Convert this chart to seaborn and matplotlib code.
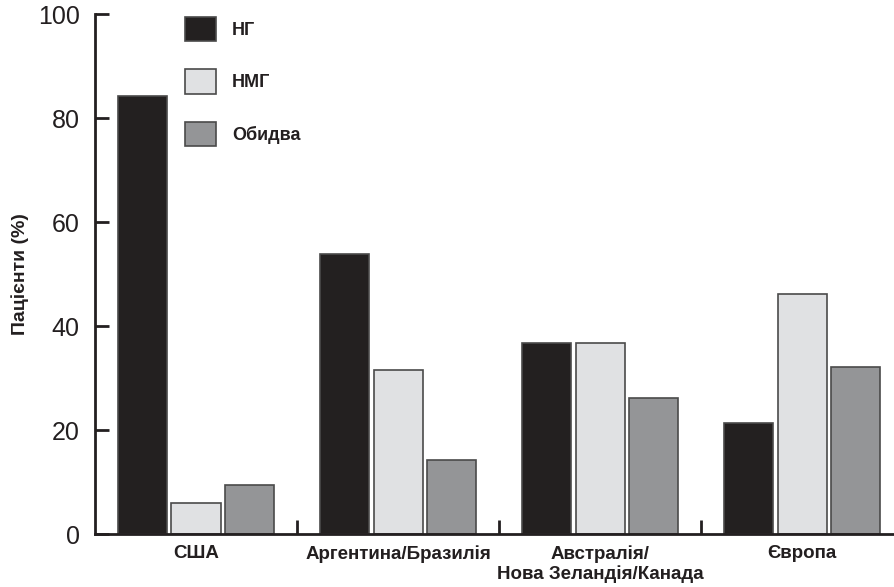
import pandas as pd
import seaborn as sns
import matplotlib
matplotlib.use("Agg")
from matplotlib import pyplot as plt
from matplotlib.ticker import FixedLocator

regions = ["США", "Аргентина/Бразилія", "Австралія/\nНова Зеландія/Канада", "Європа"]
groups = ["НГ", "НМГ", "Обидва"]
ng = [84.2, 53.8, 36.8, 21.3]
nmg = [6.0, 31.6, 36.8, 46.2]
both = [9.4, 14.3, 26.1, 32.1]
colors = ["#231f20", "#e0e1e3", "#939598"]
ink = "#231f20"

df = pd.DataFrame({"region": regions * 3,
                   "group": [g for g in groups for _ in regions],
                   "value": ng + nmg + both})

sns.set_style("white")
plt.rcParams["font.family"] = ["Liberation Sans", "DejaVu Sans"]
narrow = ["Liberation Sans Narrow", "Liberation Sans", "DejaVu Sans"]

fig = plt.figure(figsize=(8.95, 5.87), dpi=100)
ax = fig.add_axes([95 / 895, 1 - 534 / 587, 800 / 895, 520 / 587])

sns.barplot(data=df, x="region", y="value", hue="group", order=regions,
            hue_order=groups, palette=colors, width=0.8, gap=0.09,
            edgecolor="#4a4a4a", linewidth=1.2, ax=ax)

ax.set_ylim(0, 100)
ax.set_xlim(-0.5, 3.46)
ax.set_yticks([0, 20, 40, 60, 80, 100])
ax.tick_params(axis="y", direction="in", length=10, width=2, color=ink,
               labelsize=18, pad=11, labelcolor=ink, left=True)
ax.tick_params(axis="x", which="major", length=0, pad=8)
ax.xaxis.set_minor_locator(FixedLocator([0.5, 1.5, 2.5]))
ax.tick_params(axis="x", which="minor", direction="in", length=10, width=2,
               color=ink, bottom=True)
for lab in ax.get_xticklabels():
    lab.set_family(narrow)
    lab.set_fontsize(13.5)
    lab.set_fontweight("bold")
    lab.set_color(ink)
    lab.set_verticalalignment("top")

for side in ["top", "right"]:
    ax.spines[side].set_visible(False)
for side in ["left", "bottom"]:
    ax.spines[side].set_color(ink)
    ax.spines[side].set_linewidth(2)

ax.set_xlabel("")
ax.set_ylabel("Пацієнти (%)", fontsize=14, fontweight="bold", color=ink, family=narrow)
ax.yaxis.set_label_coords(-0.082, 0.5)

handles, labels = ax.get_legend_handles_labels()
ax.legend(handles, labels, loc="upper left", bbox_to_anchor=(176 / 895, 1 - 8 / 587),
          bbox_transform=fig.transFigure, frameon=False, borderpad=0,
          handlelength=1.7, handleheight=1.7, labelspacing=1.55, handletextpad=0.9,
          prop={"family": narrow, "size": 13, "weight": "bold"})
for t in ax.get_legend().get_texts():
    t.set_color(ink)

fig.savefig("out.png", dpi=100)
